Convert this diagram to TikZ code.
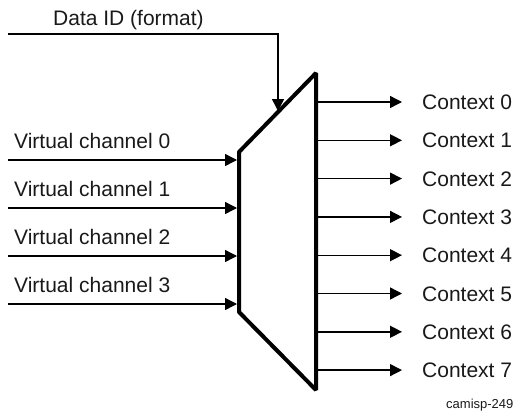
\documentclass[tikz,border=0pt]{standalone}
\usepackage{fontspec}
\setmainfont{Liberation Sans}
\usetikzlibrary{arrows.meta}
\begin{document}
\begin{tikzpicture}[x=1pt,y=-1pt,
  lbl/.style={font=\fontsize{21}{25}\selectfont, inner sep=0pt, anchor=base west, text=black!90},
  sig/.style={line width=1.4pt, -{Triangle[length=12pt,width=12pt]}},
  muxline/.style={line width=4pt, line join=bevel}]
\useasboundingbox (0,0) rectangle (514,410);
% multiplexer
\coordinate (mtl) at (239,152);
\coordinate (mtr) at (316,73);
\coordinate (mbr) at (316,390);
\coordinate (mbl) at (239,312);
\draw[muxline] (mtl) -- (mtr) -- (mbr) -- (mbl) -- cycle;
% data id
\node[lbl] (did) at (53,25) {Data ID (format)};
\coordinate (didS) at (8,34);
\coordinate (didC) at (278,34);
\coordinate (didE) at (278,111);
\draw[sig] (didS) -- (didC) -- (didE);
% virtual channels
\foreach \i in {0,1,2,3} {
  \pgfmathsetmacro{\yy}{160+48*\i}
  \node[lbl] (vc\i) at (14,\yy-12) {Virtual channel \i};
  \coordinate (vcS\i) at (8,\yy);
  \coordinate (vcE\i) at (237,\yy);
  \draw[sig] (vcS\i) -- (vcE\i);
}
% contexts
\foreach \i in {0,...,7} {
  \pgfmathsetmacro{\yy}{102+38.3*\i}
  \node[lbl] (ctx\i) at (422,\yy+7.5) {Context \i};
  \coordinate (oS\i) at (318,\yy);
  \coordinate (oE\i) at (402,\yy);
  \draw[sig] (oS\i) -- (oE\i);
}
\node[inner sep=0pt, anchor=base west, font=\fontsize{13}{15}\selectfont, text=black!90] (tag) at (446,408) {camisp-249};
\end{tikzpicture}
\end{document}
